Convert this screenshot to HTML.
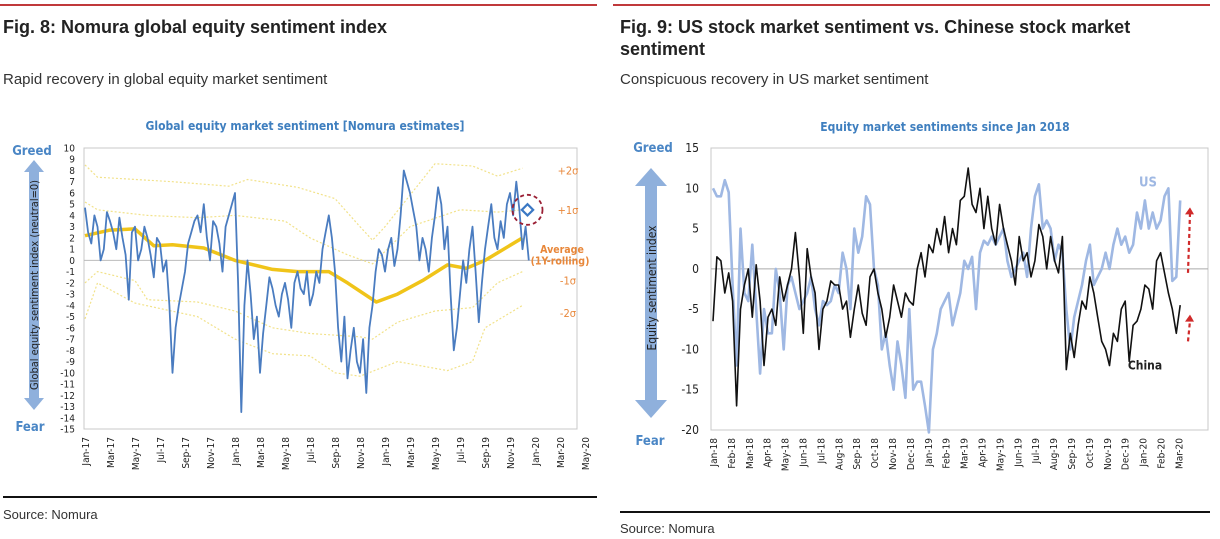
<!DOCTYPE html>
<html><head><meta charset="utf-8">
<style>
body{margin:0;background:#fff;font-family:"Liberation Sans",sans-serif;}
svg{display:block}
.t{font-family:"DejaVu Sans Condensed","DejaVu Sans","Liberation Sans",sans-serif}
</style></head>
<body>
<svg id="s" width="1220" height="539" viewBox="0 0 1220 539" xmlns="http://www.w3.org/2000/svg">
<line x1="0" y1="5" x2="597" y2="5" stroke="#c0393b" stroke-width="2"/>
<line x1="613" y1="5" x2="1210" y2="5" stroke="#c0393b" stroke-width="2"/>
<text x="3" y="33" font-size="18" font-weight="bold" fill="#222">Fig. 8: Nomura global equity sentiment index</text>
<text x="3" y="84" font-size="15" fill="#333">Rapid recovery in global equity market sentiment</text>
<text x="620" y="33" font-size="18" font-weight="bold" fill="#222">Fig. 9: US stock market sentiment vs. Chinese stock market</text>
<text x="620" y="55" font-size="18" font-weight="bold" fill="#222">sentiment</text>
<text x="620" y="84" font-size="15" fill="#333">Conspicuous recovery in US market sentiment</text>
<text class="t" x="305" y="130" font-size="12" font-weight="bold" fill="#3f7fbf" text-anchor="middle">Global equity market sentiment [Nomura estimates]</text>
<text class="t" x="945" y="131" font-size="12" font-weight="bold" fill="#3f7fbf" text-anchor="middle">Equity market sentiments since Jan 2018</text>
<line x1="3" y1="497" x2="597" y2="497" stroke="#111" stroke-width="2"/>
<line x1="620" y1="512" x2="1210" y2="512" stroke="#111" stroke-width="2"/>
<text x="3" y="519" font-size="13" fill="#333">Source: Nomura</text>
<text x="620" y="533" font-size="13" fill="#333">Source: Nomura</text>
<g id="c1"></g>
<g id="c2"></g>
</svg>
<script>
// ---- Chart 1 data (quarter-month steps from Jan-17) ----
const c1Start = 0;
const c1Step = 0.25;
const c1Blue = [4.7,2.5,1.5,4,3,0,1,4.3,3.5,2.5,1,3.8,2,0.5,-3.5,2.5,3,0,1,3,2,0.5,-1.5,2,1.5,-1,0,-4,-10,-6,-4,-2.5,-1,1.5,2.5,3.5,4,2.5,5,2,0,3.5,3,1.5,-1,3,4,5,6,-2,-13.5,-4,0,-3,-7,-5,-10,-6.5,-4,-1.5,-2.5,-4,-5,-3,-2,-3.5,-6,-2,-1,-2.5,-3,-1,-4,-3,-1,-2,1,2.5,4,2,-1,-6,-9,-5,-10.5,-8,-6,-9,-10,-7,-11.8,-6,-4,-1,1,0.5,-1,1,2,-0.5,1,4,8,7,6,4.5,3,0,2,1,-1,2,4,6.5,5,1,3,-3,-8,-6,-3,0,-2,1,3,-1,-5.5,-2,1,3,5,2,1,3.5,2,5,6,4,7,4.5,1,3,0];
const c1AvgM = [0,2,4,5.5,7,9.5,12,15,17,19.5,21,23.3,25,27,29,30.5,32,35];
const c1Avg  = [2.2,2.7,2.8,1.3,1.4,1.1,0,-0.8,-1,-1,-2,-3.7,-3,-1.8,-0.4,-0.7,0,2];
const c1P2M = [0,1,7,11.5,13,17,20,22,23,24,28,31,33,35];
const c1P2  = [8.5,7.4,7,6.6,7.2,6.5,5.5,3,1.8,3,8.6,8.4,7.5,8.2];
const c1P1M = [0,1,5,9,12,16,18,21,23,26,30,33,35];
const c1P1  = [5.2,4.5,4,3.8,4,3.5,2,0.5,-0.3,3,4.5,4.3,4.5];
const c1M1M = [0,1,4,5,9,12,15,18,22,23,25,28,31,33,35];
const c1M1  = [-2,-1,-1.8,-3.5,-3.7,-4.5,-6,-6.5,-6.8,-7,-5.5,-4.5,-4.2,-2,-1];
const c1M2M = [0,1,4,9,12,15,18,20,22,25,29,31,32,35];
const c1M2  = [-5.2,-2,-3.8,-5,-7,-8.3,-8.5,-10,-10.3,-9,-9.8,-9,-6,-4];
const c1XLabels = ["Jan-17","Mar-17","May-17","Jul-17","Sep-17","Nov-17","Jan-18","Mar-18","May-18","Jul-18","Sep-18","Nov-18","Jan-19","Mar-19","May-19","Jul-19","Sep-19","Nov-19","Jan-20","Mar-20","May-20"];
const c1YTicks = [10,9,8,7,6,5,4,3,2,1,0,-1,-2,-3,-4,-5,-6,-7,-8,-9,-10,-11,-12,-13,-14,-15];
const c1Marker = [35.4, 4.5];

// ---- Chart 2 data (approx weekly from Jan-18) ----
const c2Span = 26.1;
const c2China = [-6.5,1.5,1,-3,-0.5,-4,-17,-5,-2,0,-6,0.5,-4,-12,-6,-5,-7,-1,-4,-2,0,4.5,-1,-8,2.5,-1,-3,-10,-5,-4,-1.5,-2,-2,-5,-4,-8.5,-5,-2,-5.5,-7,-1,0,-3,-5,-8.5,-6,-2,-4,-6,-3,-4,-4.5,0,2,-1,3,2,5,3,6.5,2,5,3,8.5,9,12.5,8,7,10,5,9,5,3,8,5,3,1,-2,4,1,2,-1,1,5.5,4,0,4,1,-0.5,4,-12.5,-8,-11,-7,-4,-5,-1,-3,-6,-9,-10,-12,-8,-9,-5,-4,-11.5,-7,-6.5,-5,-2,-2.5,-5,1,2,-0.5,-3,-5,-8,-4.5];
const c2US = [10,9,9,11,9.5,-2,-12,5,-3,-4,3,-5,-13,-5,-8,-8,0,-3,-10,-2,-1,-3,-5,-4,-3,-1,-5,-7,-4,-4.5,-4,-2,-3,2,0,-5,5,2,4,9,8,0,-2,-10,-8,-12,-15,-9,-12,-16,-5,-15,-14,-14,-17,-20.3,-10,-8,-5,-4,-3,-7,-5,-3,1,0,1.5,-5,2,3.5,3,4,3,4,5,1,-1,0,1,2,-1,5,9,10.5,5,6,5,1,3,2,-5,-10,-6,-4,-2,1,3,-2,-1,0,2,0,3,5,3,4,2,3,7,5,8.5,5,7,5,6,9,10,-1.5,-1,8.5];
const c2XLabels = ["Jan-18","Feb-18","Mar-18","Apr-18","May-18","Jun-18","Jul-18","Aug-18","Sep-18","Oct-18","Nov-18","Dec-18","Jan-19","Feb-19","Mar-19","Apr-19","May-19","Jun-19","Jul-19","Aug-19","Sep-19","Oct-19","Nov-19","Dec-19","Jan-20","Feb-20","Mar-20"];
const c2YTicks = [15,10,5,0,-5,-10,-15,-20];

const NS="http://www.w3.org/2000/svg";
function mk(parent,tag,attrs,txt){const e=document.createElementNS(NS,tag);for(const k in attrs)e.setAttribute(k,attrs[k]);if(txt!==undefined)e.textContent=txt;parent.appendChild(e);return e;}
function pathD(xs,ys,fx,fy){return xs.map((x,i)=>(i?'L':'M')+fx(x).toFixed(1)+','+fy(ys[i]).toFixed(1)).join('');}

// ===== Chart 1 =====
(function(){
const g=document.getElementById('c1');
const L=84,R=577,T=148,B=429;
const x1=m=>85+m*12.5;
const y1=v=>T+(10-v)*(B-T)/25;
let e=mk(g,'rect',{x:L,y:T,width:R-L,height:B-T,fill:'#fff',stroke:'#c8c8c8','stroke-width':1});

e=mk(g,'line',{x1:L,x2:R,y1:y1(0),y2:y1(0),stroke:'#bbb','stroke-width':1});

c1YTicks.forEach(v=>{const t=mk(g,'text',{x:L-9,y:y1(v)+3.5,'font-size':10,'text-anchor':'end',fill:'#222',class:'t'},String(v));
});
c1XLabels.forEach((s,i)=>{const xx=x1(i*2);const t=mk(g,'text',{transform:`translate(${xx+4},${B+8}) rotate(-90)`,'font-size':10,'text-anchor':'end',fill:'#222',class:'t'},s);
});
const bands=[[c1P2M,c1P2,'chart1-plus-2sigma'],[c1P1M,c1P1,'chart1-plus-1sigma'],[c1M1M,c1M1,'chart1-minus-1sigma'],[c1M2M,c1M2,'chart1-minus-2sigma']];
bands.forEach(b=>{const p=mk(g,'path',{d:pathD(b[0],b[1],x1,y1),fill:'none',stroke:'#f2e28a','stroke-width':1.2,'stroke-dasharray':'2,2'});
});
e=mk(g,'path',{d:pathD(c1AvgM,c1Avg,x1,y1),fill:'none',stroke:'#f0c419','stroke-width':3.5,'stroke-linejoin':'round'});

const bx=c1Blue.map((v,i)=>c1Start+i*c1Step);
e=mk(g,'path',{d:pathD(bx,c1Blue,x1,y1),fill:'none',stroke:'#4a7cc0','stroke-width':1.8,'stroke-linejoin':'round'});

const mx=x1(c1Marker[0]),my=y1(c1Marker[1]);
e=mk(g,'circle',{cx:mx,cy:my,r:15,fill:'none',stroke:'#9b2035','stroke-width':1.8,'stroke-dasharray':'4,3'});

e=mk(g,'rect',{x:mx-4,y:my-4,width:8,height:8,fill:'#fff',stroke:'#3b78c4','stroke-width':2.2,transform:`rotate(45 ${mx} ${my})`});

const labs=[['+2σ',y1(8)+4,'chart1-label-plus2'],['+1σ',y1(4.5)+4,'chart1-label-plus1'],['-1σ',y1(-1.8)+4,'chart1-label-minus1'],['-2σ',y1(-4.7)+4,'chart1-label-minus2']];
labs.forEach(l=>{const t=mk(g,'text',{x:568,y:l[1],'font-size':11,fill:'#e8873a','text-anchor':'middle',class:'t'},l[0]);});
e=mk(g,'text',{x:562,y:y1(1)+4,'font-size':10.5,'font-weight':'bold',fill:'#e8873a','text-anchor':'middle',class:'t'},'Average');

e=mk(g,'text',{x:560,y:y1(0)+4,'font-size':10.5,'font-weight':'bold',fill:'#e8873a','text-anchor':'middle',class:'t'},'(1Y-rolling)');

e=mk(g,'path',{d:'M34,160 L44,172 L39,172 L39,398 L44,398 L34,410 L24,398 L29,398 L29,172 L24,172 Z',fill:'#8fb0dc'});

e=mk(g,'text',{transform:'translate(38,285) rotate(-90)','font-size':11,'text-anchor':'middle',fill:'#222',class:'t'},'Global equity sentiment index  (neutral=0)');

e=mk(g,'text',{x:32,y:155,'font-size':13,'font-weight':'bold',fill:'#4a86c5','text-anchor':'middle',class:'t'},'Greed');

e=mk(g,'text',{x:30,y:431,'font-size':13,'font-weight':'bold',fill:'#4a86c5','text-anchor':'middle',class:'t'},'Fear');

})();

// ===== Chart 2 =====
(function(){
const g=document.getElementById('c2');
const L=711,R=1208,T=148,B=430;
const x2=m=>713+m*17.9;
const y2=v=>T+(15-v)*(B-T)/35;
let e=mk(g,'rect',{x:L,y:T,width:R-L,height:B-T,fill:'#fff',stroke:'#c8c8c8','stroke-width':1});

e=mk(g,'line',{x1:L,x2:R,y1:y2(0),y2:y2(0),stroke:'#aaa','stroke-width':1});

c2YTicks.forEach(v=>{const t=mk(g,'text',{x:L-12,y:y2(v)+4,'font-size':12,'text-anchor':'end',fill:'#222',class:'t'},String(v));
});
c2XLabels.forEach((s,i)=>{const xx=x2(i);const t=mk(g,'text',{transform:`translate(${xx+4},${B+8}) rotate(-90)`,'font-size':10,'text-anchor':'end',fill:'#222',class:'t'},s);
});
const ux=c2US.map((v,i)=>i*c2Span/(c2US.length-1));
e=mk(g,'path',{d:pathD(ux,c2US,x2,y2),fill:'none',stroke:'#9fb8e3','stroke-width':2.6,'stroke-linejoin':'round'});

const cx=c2China.map((v,i)=>i*c2Span/(c2China.length-1));
e=mk(g,'path',{d:pathD(cx,c2China,x2,y2),fill:'none',stroke:'#111','stroke-width':1.6,'stroke-linejoin':'round'});

e=mk(g,'text',{x:1148,y:y2(10.2),'font-size':13,'font-weight':'bold',fill:'#9fb8e3','text-anchor':'middle',class:'t'},'US');

e=mk(g,'text',{x:1145,y:y2(-12.5),'font-size':12,'font-weight':'bold',fill:'#222','text-anchor':'middle',class:'t'},'China');

[[y2(-0.5),y2(7.5),'chart2-us-arrow'],[y2(-9),y2(-5.8),'chart2-china-arrow']].forEach(a=>{
 const l=mk(g,'line',{x1:1188,y1:a[0],x2:1190,y2:a[1]+5,stroke:'#d02a2a','stroke-width':2.2,'stroke-dasharray':'4,3'});
 
 const h=mk(g,'path',{d:`M1185,${a[1]+6} L1190,${a[1]-1} L1194,${a[1]+6} Z`,fill:'#d02a2a'});
 
});
e=mk(g,'path',{d:'M651,168 L667,186 L657,186 L657,400 L667,400 L651,418 L635,400 L645,400 L645,186 L635,186 Z',fill:'#8fb0dc'});

e=mk(g,'text',{transform:'translate(656,288) rotate(-90)','font-size':12,'text-anchor':'middle',fill:'#222',class:'t'},'Equity  sentiment index');

e=mk(g,'text',{x:653,y:152,'font-size':13,'font-weight':'bold',fill:'#4a86c5','text-anchor':'middle',class:'t'},'Greed');

e=mk(g,'text',{x:650,y:445,'font-size':13,'font-weight':'bold',fill:'#4a86c5','text-anchor':'middle',class:'t'},'Fear');

})();
</script>
</body></html>
